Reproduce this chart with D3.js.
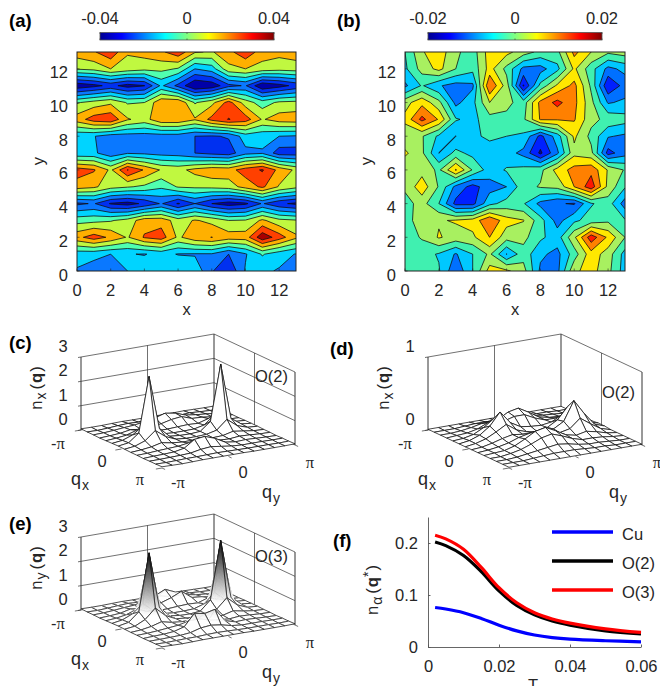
<!DOCTYPE html>
<html>
<head>
<meta charset="utf-8">
<script src="https://d3js.org/d3.v7.min.js"></script>
<style>
  html, body { margin: 0; padding: 0; background: white; overflow: hidden; }
  text { font-family: "Liberation Sans", Arial, sans-serif; fill: #262626; }
</style>
</head>
<body>
<div id="fig"></div>
<script>
// ********** DATA **********

// Panel (a): one row per y, from y = 13 down to y = 0. Units of one contour step (0.009)
var gridA = [
  [2.0, 2.4, 3.2, 1.6, 1.9, 2.3, 3.2, 1.6, 1.4, 2.2, 3.2, 2.0, 1.8, 2.0],
  [0.6, 0.8, 1.5, 1.1, 0.8, 0.8, 0.4, -1.5, -1.0, 1.2, 1.5, 1.1, 0.9, 1.0],
  [-4.2, -3.8, -3.2, -3.9, -3.55, -1.3, -2.8, -4.5, -4.2, -2.8, -2.4, -4.4, -3.9, -3.2],
  [0.4, 0.9, 1.3, 0.4, 0.5, 2.3, 2.4, 0.4, 1.2, 2.9, 1.0, 0.0, 0.7, 0.8],
  [2.0, 3.0, 3.3, 1.6, 1.1, 2.3, 2.3, 1.6, 2.8, 3.55, 3.0, 1.4, 2.0, 2.1],
  [-1.3, -1.45, -2.0, -2.0, -2.0, -2.0, -2.0, -2.5, -2.6, -2.4, -1.0, -1.2, -1.5, -1.6],
  [-1.3, -1.3, -2.2, -1.6, -1.7, -1.9, -2.0, -2.5, -2.8, -3.0, -1.8, -1.6, -3.0, -3.0],
  [3.0, 2.6, 1.3, 3.55, 2.4, 1.4, 1.2, 1.8, 2.2, 2.1, 3.0, 3.6, 2.2, 1.3],
  [2.0, 1.7, 0.9, 0.6, 0.3, -0.3, 0.6, 0.7, 0.8, 1.0, 1.9, 2.7, 1.4, 0.8],
  [-2.7, -2.4, -3.6, -3.9, -3.3, -2.4, -3.6, -2.5, -3.5, -4.0, -3.7, -2.4, -3.3, -3.7],
  [0.1, 0.2, 0.4, 0.9, 2.1, 2.1, 1.0, 1.6, 1.2, 0.5, 0.6, 1.7, 0.8, 0.6],
  [2.2, 3.0, 2.3, 1.4, 2.6, 3.0, 1.3, 2.2, 2.52, 2.0, 2.0, 4.2, 3.0, 1.7],
  [-1.1, -1.2, -1.5, -1.45, -1.55, -1.2, -1.55, -1.6, -1.6, -2.5, -1.6, -0.4, -1.1, -1.55],
  [-1.6, -2.0, -2.2, -1.5, -0.9, -0.7, -0.6, -0.8, -2.4, -3.4, -1.4, -1.3, -1.6, -2.1]
];

// Panel (b): same layout, units of one contour step (0.004)
var gridB = [
  [-1.0, 0.9, 1.6, 0.2, -0.5, 1.5, 1.3, 0.5, -0.3, -0.3, 2.3, 1.0, 0.2, 0.5],
  [-1.2, 0.4, 1.3, 0.0, -0.7, 1.4, -0.3, -2.3, -2.4, -1.3, 1.2, -0.6, -2.3, -1.7],
  [-2.2, -0.9, -1.9, -2.4, -2.2, 3.0, 0.5, -4.1, -0.7, 1.2, 2.3, -0.2, -3.9, -2.6],
  [0.6, 1.7, 0.3, -2.3, -1.3, 1.0, 0.3, -0.5, 2.3, 3.3, 2.3, 0.3, -2.1, -1.8],
  [1.3, 3.3, 1.9, -0.9, -1.3, -0.4, -0.3, -0.2, 2.1, 2.1, 2.1, 0.3, -0.3, -0.6],
  [0.2, 0.1, -1.2, -2.02, -1.2, -0.8, -1.0, -1.2, -3.3, -1.5, 1.2, -0.3, -1.9, -2.2],
  [1.2, 0.2, -2.02, -0.7, -1.3, -1.5, -1.6, -2.3, -4.2, -2.2, 0.7, 0.3, -3.4, -2.4],
  [0.2, 0.6, -0.2, 2.1, -0.1, -1.5, -0.9, -0.7, -0.3, 1.4, 2.4, 2.7, 0.9, -0.1],
  [0.2, 1.6, -0.1, -2.3, -3.4, -2.4, -2.0, -0.4, 0.1, 0.3, 2.0, 3.6, 0.7, -0.9],
  [-0.4, 0.4, -1.0, -3.3, -3.3, -1.3, -0.6, -0.9, -2.3, -2.9, -3.1, -1.1, -0.5, -2.5],
  [-0.4, 0.5, 0.9, 1.1, 1.4, 2.9, 1.4, 1.05, -0.6, -2.4, -1.2, -0.6, -0.2, -0.9],
  [-0.5, 0.1, 1.1, 0.6, 0.8, 2.0, 0.4, 0.3, -0.8, -1.5, 0.8, 3.6, 1.8, 0.0],
  [-0.5, -0.6, -1.1, -2.1, -1.0, 0.2, -2.05, -0.4, -1.8, -2.3, -0.5, 1.6, 0.5, -1.4],
  [-0.4, -0.4, -0.9, -2.8, -1.0, 1.4, 1.2, 0.4, -2.2, -2.3, 0.8, 1.4, 0.3, -1.5]
];

var levelsA = [-3.5, -2.5, -1.5, -0.5, 0.5, 1.5, 2.5, 3.5];
var levelsB = [-4, -3, -2, -1, 0, 1, 2, 3, 4];
var coloursA = ['#0000a8', '#0030f0', '#0a78ff', '#00d4ff', '#50ffb0', '#c0f840', '#ffb000', '#ff4000', '#a80000'];
var coloursB = ['#00009a', '#0020ff', '#0070ff', '#00c8ff', '#40f0b0', '#a8f060', '#ffe800', '#ff8000', '#ff1800', '#900000'];
var jetStops = ['#00008f', '#0000ff', '#0080ff', '#00ffff', '#80ff80', '#ffff00', '#ff8000', '#ff0000', '#800000'];
var gridTicks = [0, 2, 4, 6, 8, 10, 12];

// Panels (c), (d), (e): one row per qx index, one column per qy index
var surfaceC = [
  [.05, .04, .04, .05, .06, .05, .05, .05, .05, .05, .06, .05, .04, .04],
  [.04, .03, .05, .08, .10, .08, .08, .15, .08, .07, .10, .07, .05, .04],
  [.04, .05, .08, .12, .15, .22, .30, .42, .35, .20, .14, .10, .05, .04],
  [.03, .05, .08, .15, .10, .12, .18, .28, .33, .18, .16, .10, .05, .04],
  [.04, .07, .12, .25, .12, .08, .08, .10, .12, .10, .22, .12, .06, .04],
  [.05, .10, .25, .55, .25, .08, .05, .05, .06, .15, .50, .20, .08, .05],
  [.06, .12, .45, 2.70, .50, .10, .06, .05, .08, .42, 2.70, .40, .10, .05],
  [.05, .10, .25, .60, .28, .10, .06, .06, .08, .18, .55, .22, .08, .05],
  [.04, .07, .12, .22, .14, .10, .10, .08, .06, .08, .18, .12, .06, .04],
  [.04, .05, .08, .10, .12, .18, .22, .12, .08, .06, .10, .08, .05, .04],
  [.03, .05, .06, .08, .16, .45, .50, .35, .12, .06, .08, .06, .04, .03],
  [.04, .04, .05, .06, .08, .16, .20, .14, .08, .05, .05, .05, .04, .04],
  [.04, .03, .04, .05, .05, .06, .07, .06, .05, .04, .04, .04, .03, .04],
  [.05, .04, .03, .04, .05, .05, .05, .05, .05, .04, .04, .04, .04, .05]
];

var surfaceD = [
  [.01, .01, .01, .01, .01, .01, .01, .01, .01, .01, .01, .01, .01, .01],
  [.01, .01, .01, .02, .03, .03, .03, .04, .03, .02, .02, .02, .01, .01],
  [.01, .01, .02, .04, .07, .08, .10, .12, .10, .06, .04, .03, .02, .01],
  [.01, .02, .03, .06, .12, .14, .22, .25, .17, .08, .05, .04, .02, .01],
  [.01, .02, .05, .12, .22, .16, .20, .20, .13, .08, .08, .06, .03, .01],
  [.01, .03, .08, .18, .35, .18, .10, .08, .07, .09, .16, .10, .04, .01],
  [.01, .03, .07, .14, .22, .12, .07, .05, .08, .16, .32, .20, .06, .02],
  [.01, .02, .05, .09, .12, .10, .09, .08, .10, .18, .44, .24, .07, .02],
  [.01, .02, .04, .07, .12, .15, .17, .12, .09, .12, .24, .14, .05, .01],
  [.01, .02, .03, .07, .14, .22, .25, .18, .10, .07, .10, .07, .03, .01],
  [.01, .01, .03, .06, .11, .17, .20, .15, .09, .05, .05, .04, .02, .01],
  [.01, .01, .02, .04, .06, .08, .10, .08, .05, .03, .03, .02, .01, .01],
  [.01, .01, .01, .02, .03, .04, .04, .04, .03, .02, .02, .01, .01, .01],
  [.01, .01, .01, .01, .01, .01, .01, .01, .01, .01, .01, .01, .01, .01]
];

var surfaceE = [
  [.05, .04, .04, .05, .06, .05, .05, .05, .05, .05, .06, .05, .04, .04],
  [.04, .03, .05, .08, .10, .08, .10, .20, .10, .07, .10, .07, .05, .04],
  [.04, .05, .08, .12, .15, .25, .38, .58, .40, .22, .14, .10, .05, .04],
  [.03, .05, .08, .18, .12, .14, .22, .36, .55, .22, .18, .10, .05, .04],
  [.04, .07, .14, .30, .14, .09, .09, .12, .14, .12, .26, .12, .06, .04],
  [.05, .12, .30, .65, .30, .09, .05, .05, .07, .20, .60, .24, .08, .05],
  [.06, .14, .50, 2.85, .55, .12, .06, .05, .09, .48, 2.85, .45, .10, .05],
  [.05, .10, .30, .70, .32, .12, .07, .06, .09, .22, .62, .25, .08, .05],
  [.04, .07, .14, .26, .16, .12, .12, .09, .06, .09, .20, .12, .06, .04],
  [.04, .05, .08, .12, .16, .26, .30, .16, .10, .06, .10, .08, .05, .04],
  [.03, .05, .06, .10, .22, .70, .62, .72, .18, .06, .08, .06, .04, .03],
  [.04, .04, .05, .06, .10, .22, .26, .20, .10, .05, .05, .05, .04, .04],
  [.04, .03, .04, .05, .05, .07, .08, .07, .05, .04, .04, .04, .03, .04],
  [.05, .04, .03, .04, .05, .05, .05, .05, .05, .04, .04, .04, .04, .05]
];

// Panel (f)
var temps = [0.002, 0.005, 0.01, 0.015, 0.02, 0.025, 0.03, 0.035, 0.04, 0.05, 0.06];
var nCu = [0.076, 0.073, 0.066, 0.055, 0.042, 0.031, 0.023, 0.018, 0.015, 0.012, 0.010];
var nO2 = [0.202, 0.195, 0.176, 0.145, 0.108, 0.080, 0.062, 0.050, 0.042, 0.031, 0.025];
var nO3 = [0.215, 0.208, 0.188, 0.153, 0.114, 0.085, 0.066, 0.054, 0.046, 0.035, 0.028];
var lineNames = ['Cu', 'O(2)', 'O(3)'];
var lineColours = ['#0000ff', '#000000', '#ff0000'];

// ********** SET UP **********

const FONT = 16.5;
const SUB = 14;
const INK = '#262626';

var svg = d3.select('#fig').append('svg')
  .attr('width', 660)
  .attr('height', 686)
  .style('display', 'block');

var defs = svg.append('defs');

function addText(parent, x, y, str, anchor, size) {
  return parent.append('text')
    .attr('x', x)
    .attr('y', y)
    .attr('text-anchor', anchor || 'start')
    .attr('font-size', size || FONT)
    .text(str);
}

// text made of pieces, each one can be lowered, raised or bold
function addParts(parent, x, y, parts, anchor, rotate) {
  var t = parent.append('text')
    .attr('text-anchor', anchor || 'start')
    .attr('font-size', FONT);
  if (rotate) t.attr('transform', 'translate(' + x + ',' + y + ') rotate(-90)');
  else t.attr('x', x).attr('y', y);
  parts.forEach(function(p) {
    var s = t.append('tspan').text(p.t);
    if (p.dy) s.attr('dy', p.dy);
    if (p.dx) s.attr('dx', p.dx);
    if (p.bold) s.attr('font-weight', 'bold');
    if (p.size) s.attr('font-size', p.size);
  });
  return t;
}

function panelLabel(x, y, str) {
  addText(svg, x, y, str, 'start', 18.5).attr('font-weight', 'bold').style('fill', '#000');
}

// ********** CONTOUR PANELS **********

function drawContourPanel(id, left, right, grid, levels, colours, barTicks) {
  var x = d3.scaleLinear().domain([0, 13]).range([left, right]);
  var y = d3.scaleLinear().domain([0, 13]).range([271, 52]);
  var g = svg.append('g');

  defs.append('clipPath').attr('id', 'clip-' + id)
    .append('rect')
    .attr('x', left).attr('y', 52)
    .attr('width', right - left).attr('height', 219);

  // rows bottom-up, repeat the edges so the contours run through the border
  var rows = grid.slice().reverse();
  var padded = [rows[0]].concat(rows, [rows[rows.length - 1]])
    .map(function(r) { return [r[0]].concat(r, [r[r.length - 1]]); });
  var values = d3.merge(padded);

  // d3.contours puts value i at coordinate i + 0.5, and there is one row of padding
  var path = d3.geoPath(d3.geoTransform({
    point: function(px, py) { this.stream.point(x(px - 1.5), y(py - 1.5)); }
  }));

  var plot = g.append('g').attr('clip-path', 'url(#clip-' + id + ')');
  plot.append('rect')
    .attr('x', left).attr('y', 52)
    .attr('width', right - left).attr('height', 219)
    .attr('fill', colours[0]);

  var shapes = d3.contours().size([16, 16]).thresholds(levels)(values);
  plot.selectAll('path')
    .data(shapes)
    .join('path')
    .attr('d', path)
    .attr('fill', function(d, i) { return colours[i + 1]; })
    .attr('stroke', '#111')
    .attr('stroke-width', 0.8)
    .attr('stroke-linejoin', 'round');

  g.append('rect')
    .attr('x', left).attr('y', 52)
    .attr('width', right - left).attr('height', 219)
    .attr('fill', 'none')
    .attr('stroke', '#222')
    .attr('stroke-width', 1);

  gridTicks.forEach(function(t) {
    addText(g, x(t), 296, t, 'middle');
    addText(g, left - 9, y(t) + 9.5, t, 'end');
    g.append('line').attr('x1', x(t)).attr('x2', x(t)).attr('y1', 271).attr('y2', 268.5).attr('stroke', '#222').attr('stroke-width', 0.6);
    g.append('line').attr('x1', left).attr('x2', left + 2.5).attr('y1', y(t)).attr('y2', y(t)).attr('stroke', '#222').attr('stroke-width', 0.6);
  });
  addText(g, (left + right) / 2, 315, 'x', 'middle');
  addText(g, 0, 0, 'y', 'middle').attr('transform', 'translate(' + (left - 33) + ',161) rotate(-90)');

  // colour bar
  var barLeft = left + 23;
  var barScale = d3.scaleLinear().domain([0, barTicks.length - 1]).range([barLeft, barLeft + 174]);
  var grad = defs.append('linearGradient').attr('id', 'jet-' + id);
  jetStops.forEach(function(c, i) {
    grad.append('stop').attr('offset', i / (jetStops.length - 1)).attr('stop-color', c);
  });
  g.append('rect')
    .attr('x', barLeft).attr('y', 32.5)
    .attr('width', 174).attr('height', 7.5)
    .attr('fill', 'url(#jet-' + id + ')')
    .attr('stroke', '#555')
    .attr('stroke-width', 0.8);
  barTicks.forEach(function(t, i) {
    addText(g, barScale(i), 24, t, 'middle');
    g.append('line').attr('x1', barScale(i)).attr('x2', barScale(i)).attr('y1', 32.5).attr('y2', 34).attr('stroke', '#333').attr('stroke-width', 0.6);
    g.append('line').attr('x1', barScale(i)).attr('x2', barScale(i)).attr('y1', 38.5).attr('y2', 40).attr('stroke', '#333').attr('stroke-width', 0.6);
  });
}

drawContourPanel('a', 77, 296, gridA, levelsA, coloursA, ['-0.04', '0', '0.04']);
drawContourPanel('b', 405, 625, gridB, levelsB, coloursB, ['-0.02', '0', '0.02']);

// ********** SURFACE PANELS **********

function drawSurfacePanel(ox, oy, surface, zMax, zTicks, yLabelSub, tag, tagX, tagY, shaded) {
  var g = svg.append('g');
  var u = d3.scaleLinear().domain([0, 13]).range([0, 1]);
  var v = d3.scaleLinear().domain([0, 13]).range([0, 1]);
  var z = d3.scaleLinear().domain([0, zMax]).range([0, 73]);
  var grey = d3.scaleLinear().domain([0.15 * zMax, zMax]).range(['#ffffff', '#000000']).clamp(true);

  // oblique view: the left corner of the floor is (qx, qy) = (-pi, -pi)
  function project(a, b, c) {
    return [ox + 81 * u(a) + 133 * v(b), oy + 38 * u(a) - 23 * v(b) - z(c)];
  }
  function segment(p, q, w) {
    g.append('line')
      .attr('x1', p[0]).attr('y1', p[1]).attr('x2', q[0]).attr('y2', q[1])
      .attr('stroke', '#333').attr('stroke-width', w || 0.7);
  }

  // walls
  segment(project(0, 0, 0), project(0, 0, zMax), 1);
  segment(project(0, 13, 0), project(0, 13, zMax), 1);
  segment(project(13, 13, 0), project(13, 13, zMax), 1);
  segment(project(0, 6.5, 0), project(0, 6.5, zMax));
  segment(project(6.5, 13, 0), project(6.5, 13, zMax));
  zTicks.forEach(function(t) {
    segment(project(0, 0, t), project(0, 13, t));
    segment(project(0, 13, t), project(13, 13, t));
    segment(project(0, 0, t), [project(0, 0, t)[0] - 3, project(0, 0, t)[1] + 0.5]);
    addText(g, ox - 18, project(0, 0, t)[1] - 5, t, 'middle');
  });

  // mesh, back to front
  var lineGen = d3.line();
  function height(a, b) { return surface[a][b]; }
  for (var a = 0; a < 13; a++) {
    for (var b = 12; b >= 0; b--) {
      var ring = [[a, b], [a + 1, b], [a + 1, b + 1], [a, b + 1]];
      if (shaded) {
        // split the facet in strips so the grey follows the height
        var n = 14;
        for (var i = 0; i < n; i++) {
          for (var j = 0; j < n; j++) {
            var bil = function(s, t) {
              return (1 - s) * (1 - t) * height(a, b) + s * (1 - t) * height(a + 1, b) +
                s * t * height(a + 1, b + 1) + (1 - s) * t * height(a, b + 1);
            };
            var s0 = i / n, s1 = (i + 1) / n, t0 = j / n, t1 = (j + 1) / n;
            var sub = [[s0, t0], [s1, t0], [s1, t1], [s0, t1]].map(function(st) {
              return project(a + st[0], b + st[1], bil(st[0], st[1]));
            });
            var level = bil((s0 + s1) / 2, (t0 + t1) / 2);
            g.append('path')
              .attr('d', lineGen(sub) + 'Z')
              .attr('fill', grey(level))
              .attr('stroke', grey(level))
              .attr('stroke-width', 0.3);
          }
        }
      }
      g.append('path')
        .attr('d', lineGen(ring.map(function(p) {
          return project(p[0], p[1], height(p[0], p[1]));
        })) + 'Z')
        .attr('fill', shaded ? 'none' : 'white')
        .attr('stroke', '#111')
        .attr('stroke-width', 0.75);
    }
  }

  // floor ticks
  [0, 6.5, 13].forEach(function(t) {
    var p = project(t, 0, 0), q = project(t, -0.6, 0);
    segment(p, q);
    var r = project(13, t, 0), w = project(13.5, t, 0);
    segment(r, w);
  });

  // axis labels
  function pi(x, y, minus) {
    var t = g.append('text').attr('x', x).attr('y', y).attr('text-anchor', 'middle').attr('font-size', FONT);
    if (minus) t.append('tspan').text('-');
    t.append('tspan').text('\u03c0').style('font-family', '"Liberation Serif", serif');
  }
  pi(ox - 23, oy + 19, true);
  addText(g, ox + 21, oy + 37, 0, 'middle');
  pi(ox + 59, oy + 55, false);
  pi(ox + 97, oy + 58, true);
  addText(g, ox + 162, oy + 48, 0, 'middle');
  pi(ox + 229, oy + 38, false);
  addParts(g, ox - 10, oy + 55, [{t: 'q'}, {t: 'x', dy: 5, dx: 1, size: SUB}]).attr('font-size', 18);
  addParts(g, ox + 181, oy + 68, [{t: 'q'}, {t: 'y', dy: 5, dx: 1, size: SUB}]).attr('font-size', 18);
  addParts(g, ox - 39, oy - 42, [
    {t: 'n'}, {t: yLabelSub, dy: 4, dx: 1, size: SUB}, {t: '(', dy: -4, dx: 3}, {t: 'q', bold: true, dx: 1}, {t: ')', dx: 1}
  ], 'middle', true);
  addText(g, tagX, tagY, tag);
}

drawSurfacePanel(81, 430, surfaceC, 3, [0, 1, 2, 3], 'x', 'O(2)', 255, 382, false);
drawSurfacePanel(428, 430, surfaceD, 1, [0, 1], 'x', 'O(2)', 602, 398, false);
drawSurfacePanel(81, 610, surfaceE, 3, [0, 1, 2, 3], 'y', 'O(3)', 255, 562, true);

// ********** LINE PANEL **********

var xT = d3.scaleLinear().domain([0, 0.06]).range([428, 641]);
var yN = d3.scaleLinear().domain([0, 0.25]).range([647, 517]);

var axisBottom = d3.axisBottom(xT).tickValues([0, 0.02, 0.04, 0.06]).tickFormat(d3.format('~g')).tickSizeInner(-2.5).tickSizeOuter(0).tickPadding(13);
var axisLeft = d3.axisLeft(yN).tickValues([0, 0.1, 0.2]).tickFormat(d3.format('~g')).tickSizeInner(-2.5).tickSizeOuter(0).tickPadding(10);

var axisG = svg.append('g');
axisG.append('g').attr('transform', 'translate(0,647)').call(axisBottom);
axisG.append('g').attr('transform', 'translate(428,0)').call(axisLeft);
axisG.selectAll('text').attr('font-size', FONT).style('font-family', '"Liberation Sans", Arial, sans-serif').style('fill', INK);
axisG.selectAll('path, line').attr('stroke', '#555').attr('stroke-width', 0.9);

var line = d3.line()
  .x(function(d, i) { return xT(temps[i]); })
  .y(function(d) { return yN(d); })
  .curve(d3.curveCatmullRom);

[nCu, nO2, nO3].forEach(function(series, i) {
  svg.append('path')
    .attr('d', line(series))
    .attr('fill', 'none')
    .attr('stroke', lineColours[i])
    .attr('stroke-width', 3.2);
});

lineNames.forEach(function(name, i) {
  var yPos = 532 + 29 * i;
  svg.append('line')
    .attr('x1', 552).attr('x2', 613)
    .attr('y1', yPos).attr('y2', yPos)
    .attr('stroke', lineColours[i])
    .attr('stroke-width', 3.6);
  addText(svg, 622, yPos + 8, name);
});

addText(svg, 533, 691, 'T', 'middle');
addParts(svg, 378, 590, [
  {t: 'n'}, {t: '\u03b1', dy: 4, dx: 1, size: SUB}, {t: '(', dy: -4, dx: 3}, {t: 'q', bold: true, dx: 1}, {t: '*', dy: -5, size: SUB}, {t: ')', dy: 5, dx: 1}
], 'middle', true);

// ********** PANEL LABELS **********

panelLabel(9, 27, '(a)');
panelLabel(337, 27, '(b)');
panelLabel(9, 349, '(c)');
panelLabel(330, 355, '(d)');
panelLabel(9, 530, '(e)');
panelLabel(333, 547, '(f)');
</script>
</body>
</html>
